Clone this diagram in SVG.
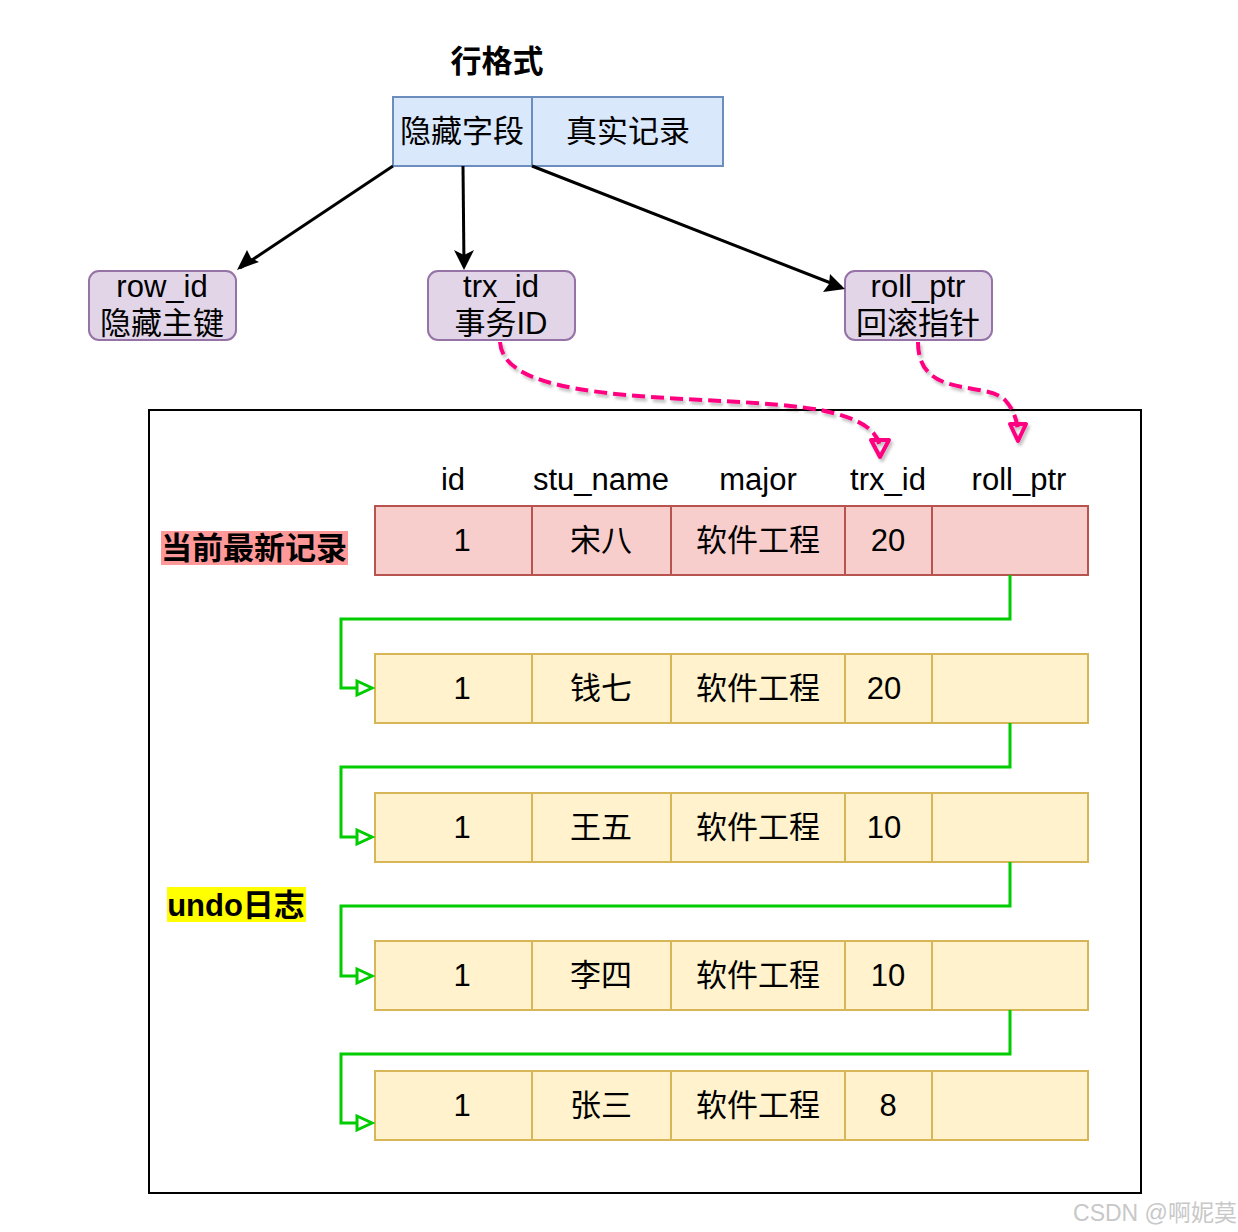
<svg xmlns="http://www.w3.org/2000/svg" width="1238" height="1232" viewBox="0 0 1238 1232">
<style>
text{font-family:"Liberation Sans","Noto Sans CJK SC",sans-serif;font-size:31px;fill:#000;text-anchor:middle;dominant-baseline:central}
.b{font-weight:bold}
.top{fill:#dae8fc;stroke:#6c8ebf;stroke-width:2}
.nd{fill:#e1d5e7;stroke:#9673a6;stroke-width:2}
.cur{fill:#f8cecc;stroke:#b85450;stroke-width:2}
.old{fill:#fff2cc;stroke:#d6b656;stroke-width:2}
.blk{fill:none;stroke:#000;stroke-width:3}
.grn{fill:none;stroke:#00cc00;stroke-width:3}
.ga{fill:#fff;stroke:#00cc00;stroke-width:3}
.pk{fill:none;stroke:#ff0080;stroke-width:4;stroke-dasharray:13 6}
.pa{fill:none;stroke:#ff0080;stroke-width:4;stroke-linejoin:round}
</style>
<defs>
<filter id="sh" x="-10%" y="-10%" width="130%" height="130%">
<feDropShadow dx="2" dy="3" stdDeviation="1.5" flood-color="#000" flood-opacity="0.25"/>
</filter>
</defs>

<text class="b" x="497" y="61">行格式</text>

<g id="row-format">
<rect class="top" x="393" y="97" width="139" height="69"/>
<text x="462" y="131">隐藏字段</text>
<rect class="top" x="532" y="97" width="191" height="69"/>
<text x="628" y="131">真实记录</text>
</g>

<g id="node-row_id">
<rect class="nd" x="89" y="271" width="147" height="69" rx="10"/>
<text x="162" y="286">row_id</text>
<text x="162" y="323">隐藏主键</text>
</g>
<g id="node-trx_id">
<rect class="nd" x="428" y="271" width="147" height="69" rx="10"/>
<text x="501" y="286">trx_id</text>
<text x="501" y="323">事务ID</text>
</g>
<g id="node-roll_ptr">
<rect class="nd" x="845" y="271" width="147" height="69" rx="10"/>
<text x="918" y="286">roll_ptr</text>
<text x="918" y="323">回滚指针</text>
</g>

<rect x="149" y="410" width="992" height="783" fill="none" stroke="#000" stroke-width="2"/>

<g id="headers">
<text x="453" y="479">id</text>
<text x="601" y="479">stu_name</text>
<text x="758" y="479">major</text>
<text x="888" y="479">trx_id</text>
<text x="1019" y="479">roll_ptr</text>
</g>

<g id="label-current">
<rect x="161" y="531" width="187" height="34" fill="#ff9999"/>
<text class="b" x="254" y="548">当前最新记录</text>
</g>
<g id="label-undo">
<rect x="167" y="887" width="139" height="35" fill="#ffff00"/>
<text class="b" x="236" y="905">undo日志</text>
</g>

<g id="record-1">
<rect class="cur" x="375" y="506" width="157" height="69"/><rect class="cur" x="532" y="506" width="139" height="69"/><rect class="cur" x="671" y="506" width="174" height="69"/><rect class="cur" x="845" y="506" width="87" height="69"/><rect class="cur" x="932" y="506" width="156" height="69"/>
<text x="462" y="540">1</text><text x="601" y="540">宋八</text><text x="758" y="540">软件工程</text><text x="888" y="540">20</text>
</g>
<g id="record-2">
<rect class="old" x="375" y="654" width="157" height="69"/><rect class="old" x="532" y="654" width="139" height="69"/><rect class="old" x="671" y="654" width="174" height="69"/><rect class="old" x="845" y="654" width="87" height="69"/><rect class="old" x="932" y="654" width="156" height="69"/>
<text x="462" y="688">1</text><text x="601" y="688">钱七</text><text x="758" y="688">软件工程</text><text x="884" y="688">20</text>
</g>
<g id="record-3">
<rect class="old" x="375" y="793" width="157" height="69"/><rect class="old" x="532" y="793" width="139" height="69"/><rect class="old" x="671" y="793" width="174" height="69"/><rect class="old" x="845" y="793" width="87" height="69"/><rect class="old" x="932" y="793" width="156" height="69"/>
<text x="462" y="827">1</text><text x="601" y="827">王五</text><text x="758" y="827">软件工程</text><text x="884" y="827">10</text>
</g>
<g id="record-4">
<rect class="old" x="375" y="941" width="157" height="69"/><rect class="old" x="532" y="941" width="139" height="69"/><rect class="old" x="671" y="941" width="174" height="69"/><rect class="old" x="845" y="941" width="87" height="69"/><rect class="old" x="932" y="941" width="156" height="69"/>
<text x="462" y="975">1</text><text x="601" y="975">李四</text><text x="758" y="975">软件工程</text><text x="888" y="975">10</text>
</g>
<g id="record-5">
<rect class="old" x="375" y="1071" width="157" height="69"/><rect class="old" x="532" y="1071" width="139" height="69"/><rect class="old" x="671" y="1071" width="174" height="69"/><rect class="old" x="845" y="1071" width="87" height="69"/><rect class="old" x="932" y="1071" width="156" height="69"/>
<text x="462" y="1105">1</text><text x="601" y="1105">张三</text><text x="758" y="1105">软件工程</text><text x="888" y="1105">8</text>
</g>

<g id="connectors">
<line class="blk" x1="393" y1="166" x2="240" y2="268"/>
<path d="M237,270 L247,250 L251,258 L259,262 Z" fill="#000"/>
<line class="blk" x1="463" y1="166" x2="464" y2="266"/>
<path d="M464,270 L454,250 L464,255 L474,250 Z" fill="#000"/>
<line class="blk" x1="532" y1="166" x2="841" y2="287"/>
<path d="M845,289 L823,292 L829,284 L830,274 Z" fill="#000"/>

<g filter="url(#sh)">
<path class="pk" d="M500,342 C504,410 720,392 820,410 C860,418 878,430 880,448"/>
<path class="pa" d="M871,440 L880,457 L889,440 Z"/>
<path class="pk" d="M918,342 C918,400 985,380 1005,400 C1014,410 1017,420 1018,432"/>
<path class="pa" d="M1010,424 L1018,441 L1026,424 Z"/>
</g>

<path class="grn" d="M1010,575 V619 H341 V688 H358"/>
<path class="ga" d="M357,681 L372,688 L357,695 Z"/>
<path class="grn" d="M1010,723 V767 H341 V837 H358"/>
<path class="ga" d="M357,830 L372,837 L357,844 Z"/>
<path class="grn" d="M1010,862 V906 H341 V976 H358"/>
<path class="ga" d="M357,969 L372,976 L357,983 Z"/>
<path class="grn" d="M1010,1010 V1054 H341 V1123 H358"/>
<path class="ga" d="M357,1116 L372,1123 L357,1130 Z"/>
</g>

<text x="1155" y="1213" style="font-size:23px;fill:#c8c8c8">CSDN @啊妮莫</text>
</svg>
